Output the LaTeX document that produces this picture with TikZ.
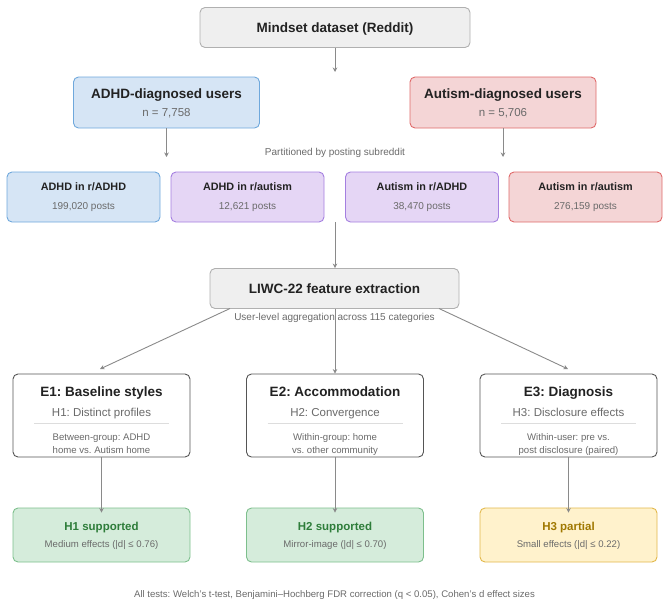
\documentclass[tikz,border=0pt]{standalone}
\usepackage{fontspec}
\setmainfont{Liberation Sans}
\usetikzlibrary{arrows.meta}
\frenchspacing
\definecolor{gfill}{HTML}{EFEFEF}
\definecolor{gline}{HTML}{B0B0B0}
\definecolor{bfill}{HTML}{D6E5F5}
\definecolor{bline}{HTML}{6FA8DC}
\definecolor{rfill}{HTML}{F4D5D6}
\definecolor{rline}{HTML}{E06A6A}
\definecolor{pfill}{HTML}{E5D6F5}
\definecolor{pline}{HTML}{A47FE0}
\definecolor{efill}{HTML}{FFFFFF}
\definecolor{eline}{HTML}{555555}
\definecolor{grfill}{HTML}{D5ECDB}
\definecolor{grline}{HTML}{7DBF8C}
\definecolor{grtext}{HTML}{2E7D3A}
\definecolor{yfill}{HTML}{FFF2CC}
\definecolor{yline}{HTML}{E2B84A}
\definecolor{ytext}{HTML}{A07800}
\definecolor{dtext}{HTML}{222222}
\definecolor{stext}{HTML}{6A6A6A}
\definecolor{arr}{HTML}{8A8A8A}
\definecolor{sep}{HTML}{DDDDDD}
\newcommand{\fs}[1]{\fontsize{#1}{#1}\selectfont}
\tikzset{
  boxbase/.style={draw, rounded corners=5pt, line width=0.9pt, inner sep=0pt},
  graybox/.style={boxbase, fill=gfill, draw=gline},
  bluebox/.style={boxbase, fill=bfill, draw=bline},
  redbox/.style={boxbase, fill=rfill, draw=rline},
  purbox/.style={boxbase, fill=pfill, draw=pline},
  expbox/.style={boxbase, fill=efill, draw=eline, minimum width=177pt, minimum height=83pt},
  grbox/.style={boxbase, fill=grfill, draw=grline, minimum width=177pt, minimum height=54pt},
  yelbox/.style={boxbase, fill=yfill, draw=yline, minimum width=177pt, minimum height=54pt},
  rowbox/.style={minimum width=153pt, minimum height=50pt},
  txt/.style={anchor=base, inner sep=0pt, text=dtext},
  bigtitle/.style={txt, font=\fs{13.5}\bfseries},
  subbig/.style={txt, font=\fs{11.5}, text=stext},
  rowtitle/.style={txt, font=\fs{10.8}\bfseries},
  rowsub/.style={txt, font=\fs{10}, text=stext},
  note/.style={txt, font=\fs{10}, text=stext},
  small/.style={txt, font=\fs{9.6}, text=stext},
  arrowline/.style={draw=arr, line width=0.9pt, -{Stealth[length=4.5pt,width=4.5pt]}},
}
\begin{document}
\begin{tikzpicture}[x=1pt,y=-1pt]
\useasboundingbox (0,0) rectangle (666,606);

% top
\node[graybox, minimum width=270pt, minimum height=40pt] (mindset) at (335,27.5) {};
\node[bigtitle] (mindsett) at (335,32.3) {Mindset dataset (Reddit)};
\coordinate (mindsetend) at (335,72);
\draw[arrowline] (mindset.south) -- (mindsetend);

% diagnosed groups
\node[bluebox, minimum width=186pt, minimum height=51pt] (adhd) at (166.5,102.5) {};
\node[bigtitle] (adhdt) at (166.5,98) {ADHD-diagnosed users};
\node[subbig] (adhdn) at (166.5,116.2) {n = 7,758};
\node[redbox, minimum width=186pt, minimum height=51pt] (aut) at (503,102.5) {};
\node[bigtitle] (autt) at (503,98) {Autism-diagnosed users};
\node[subbig] (autn) at (503,116.2) {n = 5,706};
\coordinate (adhdend) at (166.5,157);
\coordinate (autend) at (503,157);
\draw[arrowline] (adhd.south) -- (adhdend);
\draw[arrowline] (aut.south) -- (autend);
\node[note] (part) at (335,155.6) {Partitioned by posting subreddit};

% subreddit partitions
\node[bluebox, rowbox] (r1) at (83.5,197) {};
\node[rowtitle] (r1t) at (83.5,190.8) {ADHD in r/ADHD};
\node[rowsub] (r1s) at (83.5,209.6) {199,020 posts};
\node[purbox, rowbox] (r2) at (247.5,197) {};
\node[rowtitle] (r2t) at (247.5,190.8) {ADHD in r/autism};
\node[rowsub] (r2s) at (247.5,209.6) {12,621 posts};
\node[purbox, rowbox] (r3) at (422,197) {};
\node[rowtitle] (r3t) at (422,190.8) {Autism in r/ADHD};
\node[rowsub] (r3s) at (422,209.6) {38,470 posts};
\node[redbox, rowbox] (r4) at (585.5,197) {};
\node[rowtitle] (r4t) at (585.5,190.8) {Autism in r/autism};
\node[rowsub] (r4s) at (585.5,209.6) {276,159 posts};

% LIWC
\coordinate (rowbot) at (335,222);
\node[graybox, minimum width=249pt, minimum height=40pt] (liwc) at (334.5,288.5) {};
\node[bigtitle] (liwct) at (334.5,293.9) {LIWC-22 feature extraction};
\draw[arrowline] (rowbot) -- (liwc.north -| rowbot);
\node[note] (agg) at (334.5,320.6) {User-level aggregation across 115 categories};

% experiments
\node[expbox] (e1) at (101.5,415.5) {};
\node[expbox] (e2) at (335,415.5) {};
\node[expbox] (e3) at (568.5,415.5) {};
\coordinate (lstart) at (230,308.5);
\coordinate (rstart) at (439,308.5);
\draw[arrowline] (lstart) -- (100,369);
\draw[arrowline] (liwc.south -| e2) -- (e2.north);
\draw[arrowline] (rstart) -- (568,369);

\node[bigtitle] (e1t) at (101.5,396.9) {E1: Baseline styles};
\node[subbig] (e1h) at (101.5,416.1) {H1: Distinct profiles};
\draw[sep, line width=0.8pt] (34,423.5) -- (169,423.5);
\node[small] (e1a) at (101.5,440.4) {Between-group: ADHD};
\node[small] (e1b) at (101.5,453.4) {home vs. Autism home};

\node[bigtitle] (e2t) at (335,396.9) {E2: Accommodation};
\node[subbig] (e2h) at (335,416.1) {H2: Convergence};
\draw[sep, line width=0.8pt] (267.5,423.5) -- (402.5,423.5);
\node[small] (e2a) at (335,440.4) {Within-group: home};
\node[small] (e2b) at (335,453.4) {vs. other community};

\node[bigtitle] (e3t) at (568.5,396.9) {E3: Diagnosis};
\node[subbig] (e3h) at (568.5,416.1) {H3: Disclosure effects};
\draw[sep, line width=0.8pt] (501,423.5) -- (636,423.5);
\node[small] (e3a) at (568.5,440.4) {Within-user: pre vs.};
\node[small] (e3b) at (568.5,453.4) {post disclosure (paired)};

% results
\node[grbox] (h1) at (101.5,535) {};
\node[grbox] (h2) at (335,535) {};
\node[yelbox] (h3) at (568.5,535) {};
\draw[arrowline] (e1.south) -- ([yshift=-5pt]h1.north);
\draw[arrowline] (e2.south) -- ([yshift=-5pt]h2.north);
\draw[arrowline] (e3.south) -- ([yshift=-5pt]h3.north);

\node[txt, font=\fs{11.5}\bfseries, text=grtext] (h1t) at (101.5,530.1) {H1 supported};
\node[small] (h1s) at (101.5,547.6) {Medium effects (|d| ≤ 0.76)};
\node[txt, font=\fs{11.5}\bfseries, text=grtext] (h2t) at (335,530.1) {H2 supported};
\node[small] (h2s) at (335,547.6) {Mirror-image (|d| ≤ 0.70)};
\node[txt, font=\fs{11.5}\bfseries, text=ytext] (h3t) at (568.5,530.1) {H3 partial};
\node[small] (h3s) at (568.5,547.6) {Small effects (|d| ≤ 0.22)};

% footer
\node[small] (foot) at (334.5,597.4) {All tests: Welch's t-test, Benjamini–Hochberg FDR correction (q < 0.05), Cohen's d effect sizes};
\end{tikzpicture}
\end{document}
